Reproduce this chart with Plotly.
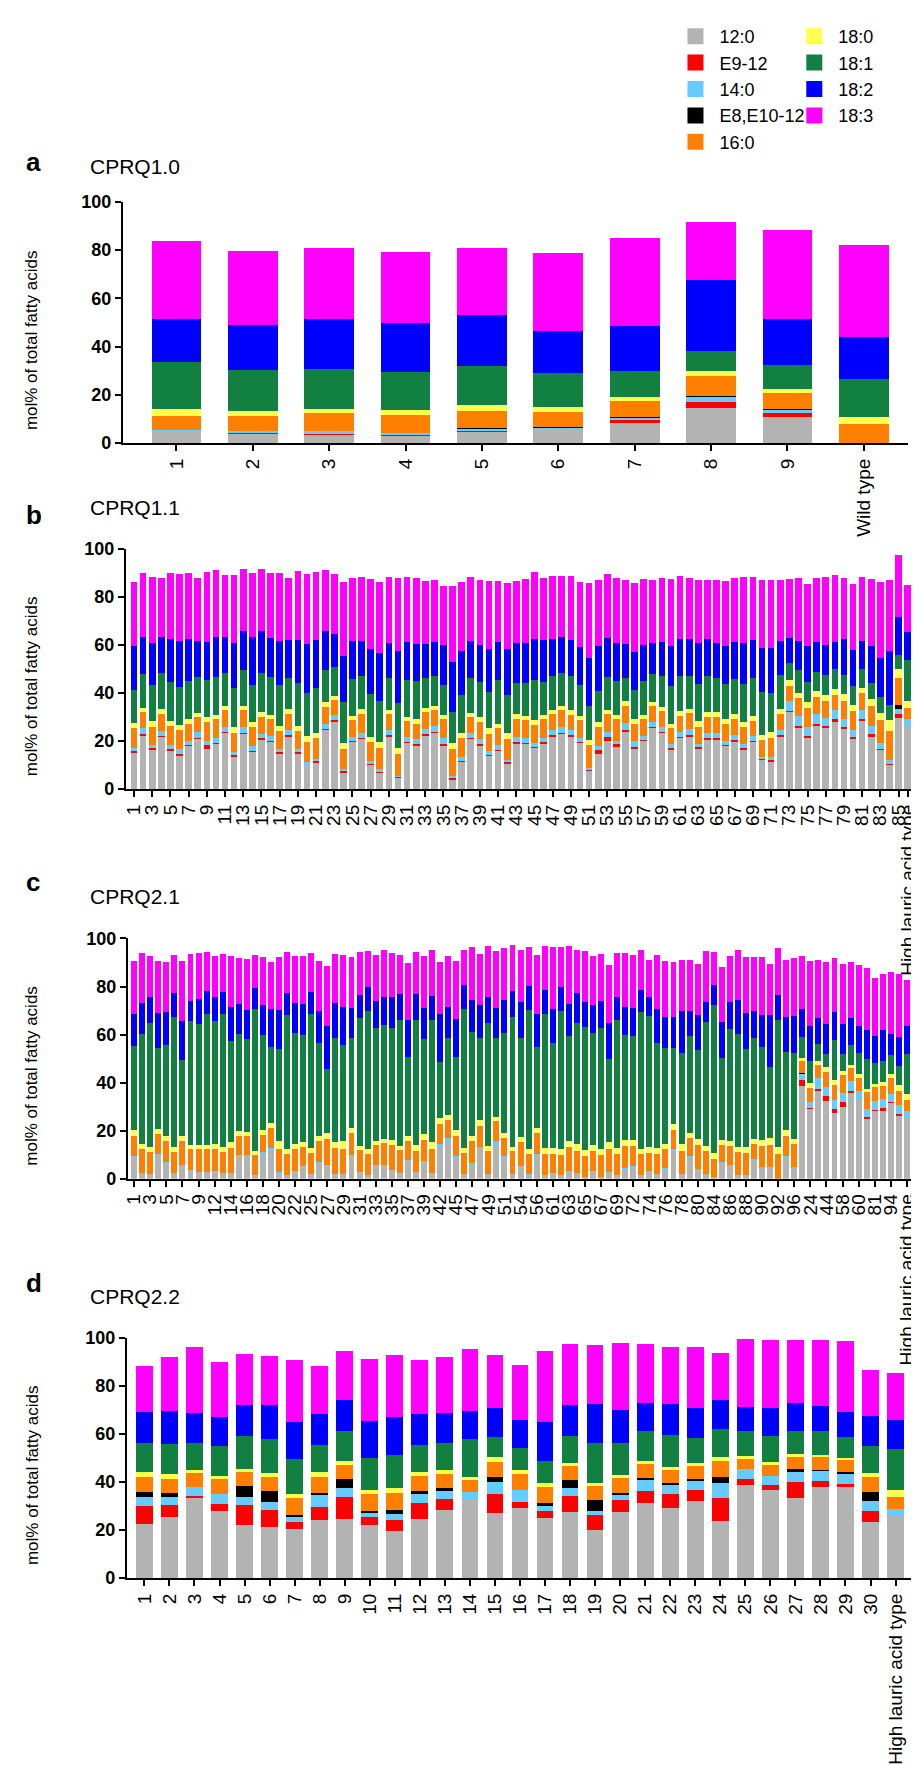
import plotly.graph_objects as go

# ---------------- data ----------------
SERIES = ["12:0", "E9-12", "14:0", "E8,E10-12", "16:0", "18:0", "18:1", "18:2", "18:3"]
COLORS = ["#b3b3b3", "#ff0000", "#66ccff", "#000000", "#ff8000", "#ffff4d", "#118040", "#0000ff", "#ff00ff"]

# cumulative level (top of each series) per bar, order as SERIES
A_LABELS = ["1", "2", "3", "4", "5", "6", "7", "8", "9", "Wild type"]
A_LEVELS = [
    [4.8, 5.0, 5.5, 5.5, 11.4, 14.0, 33.6, 51.4, 83.8],
    [4.2, 4.5, 5.2, 5.2, 11.4, 13.4, 30.4, 49.0, 79.7],
    [3.8, 4.1, 4.9, 4.9, 12.3, 14.2, 30.8, 51.4, 80.8],
    [3.4, 3.5, 4.1, 4.1, 11.6, 13.7, 29.5, 49.7, 79.2],
    [4.7, 5.1, 5.9, 6.2, 13.4, 15.6, 31.8, 53.0, 80.8],
    [5.5, 5.5, 6.4, 6.6, 13.0, 14.8, 29.0, 46.3, 79.0],
    [8.2, 9.6, 10.7, 10.9, 17.5, 19.2, 29.9, 48.6, 85.2],
    [14.7, 17.1, 19.2, 19.5, 27.8, 29.9, 38.1, 67.7, 91.6],
    [11.0, 12.6, 14.1, 14.3, 20.8, 22.3, 32.3, 51.4, 88.2],
    [0.2, 0.2, 0.2, 0.2, 7.9, 11.0, 26.7, 44.2, 82.2],
]

B_LABELS = [str(i) for i in range(1, 86)] + ["High lauric acid type"]
B_TICKS = [str(i) for i in range(1, 86, 2)] + ["High lauric acid type"]
B_LEVELS = [
    [15.3, 15.8, 17.3, 17.3, 25.5, 27.7, 41.4, 59.6, 86.1],
    [22.5, 22.8, 25.3, 25.3, 32.1, 33.7, 48.1, 63.5, 89.8],
    [16.7, 17.1, 18.4, 18.4, 26.0, 28.4, 43.3, 60.8, 88.4],
    [21.9, 22.3, 24.3, 24.3, 31.4, 33.5, 48.2, 63.3, 88.1],
    [16.1, 16.6, 18.2, 18.2, 26.2, 28.4, 44.8, 62.6, 89.9],
    [13.7, 14.8, 16.7, 16.7, 24.6, 26.6, 42.6, 61.5, 89.5],
    [18.0, 18.3, 19.9, 19.9, 27.3, 29.4, 45.1, 62.3, 89.9],
    [21.2, 21.5, 23.6, 23.6, 30.1, 31.8, 46.7, 61.5, 87.8],
    [16.7, 18.2, 20.2, 20.2, 28.1, 30.1, 45.4, 61.2, 90.2],
    [19.1, 19.4, 21.4, 21.4, 29.0, 30.7, 46.7, 63.5, 91.1],
    [23.6, 23.9, 26.0, 26.0, 32.8, 34.6, 48.2, 63.5, 89.3],
    [13.7, 14.1, 15.3, 15.3, 23.2, 25.7, 42.1, 60.8, 89.3],
    [23.2, 23.5, 25.7, 25.7, 32.8, 34.6, 49.6, 65.8, 91.8],
    [15.7, 16.0, 17.8, 17.8, 25.7, 28.0, 43.4, 63.3, 89.9],
    [20.8, 21.1, 22.8, 22.8, 30.1, 32.0, 48.5, 65.8, 91.5],
    [19.8, 20.1, 22.1, 22.1, 29.0, 30.7, 46.7, 62.8, 89.9],
    [15.0, 15.4, 16.9, 16.9, 24.3, 26.2, 43.4, 61.5, 89.9],
    [22.1, 22.5, 24.6, 24.6, 31.4, 33.2, 46.4, 61.9, 87.8],
    [15.0, 15.3, 16.7, 16.7, 24.3, 26.2, 44.0, 62.2, 91.0],
    [10.2, 10.5, 11.2, 11.2, 19.8, 22.1, 40.0, 60.5, 89.5],
    [11.2, 11.6, 12.6, 12.6, 21.4, 23.5, 41.9, 62.2, 90.4],
    [24.9, 25.2, 27.3, 27.3, 34.4, 36.2, 49.5, 65.8, 91.3],
    [28.4, 28.6, 31.0, 31.0, 37.3, 38.9, 51.0, 64.6, 89.5],
    [7.1, 7.5, 8.5, 8.5, 16.8, 19.4, 36.2, 55.3, 86.3],
    [19.8, 20.1, 21.9, 21.9, 28.7, 30.3, 46.0, 61.5, 88.1],
    [21.2, 21.5, 23.5, 23.5, 31.4, 33.3, 47.1, 61.5, 88.5],
    [10.2, 10.6, 11.6, 11.6, 19.8, 21.9, 39.6, 58.3, 87.4],
    [6.8, 7.2, 8.2, 8.2, 17.1, 19.5, 36.5, 56.7, 86.1],
    [22.1, 22.4, 24.6, 24.6, 31.4, 33.1, 46.4, 60.8, 88.4],
    [4.8, 5.1, 5.5, 5.5, 14.6, 17.3, 35.8, 57.4, 88.1],
    [19.4, 19.7, 21.6, 21.6, 28.4, 30.1, 45.4, 61.1, 88.4],
    [18.2, 18.9, 20.8, 20.8, 27.3, 29.1, 45.1, 60.5, 87.7],
    [22.5, 22.8, 25.0, 25.0, 32.1, 33.9, 46.2, 60.5, 86.7],
    [23.5, 23.8, 26.4, 26.4, 33.1, 34.8, 47.1, 61.2, 87.2],
    [18.4, 18.8, 21.2, 21.2, 29.0, 31.0, 43.3, 59.8, 84.4],
    [4.1, 4.6, 5.5, 5.5, 16.7, 19.1, 32.1, 52.9, 84.4],
    [11.6, 11.9, 13.4, 13.4, 21.2, 23.2, 39.2, 57.4, 86.3],
    [21.2, 21.5, 23.2, 23.2, 30.1, 31.8, 46.4, 61.5, 88.5],
    [18.4, 18.9, 20.9, 20.9, 28.0, 30.1, 44.4, 60.1, 87.2],
    [13.9, 14.2, 15.7, 15.7, 23.0, 25.3, 40.6, 58.3, 86.5],
    [16.1, 16.5, 18.2, 18.2, 25.5, 27.3, 45.5, 61.1, 86.7],
    [10.9, 11.2, 12.3, 12.3, 20.8, 23.2, 39.3, 58.5, 85.7],
    [19.1, 19.6, 21.9, 21.9, 29.1, 31.1, 44.3, 60.8, 86.7],
    [18.9, 19.3, 21.2, 21.2, 28.7, 30.6, 44.1, 60.7, 87.4],
    [17.3, 17.7, 19.4, 19.4, 26.9, 28.7, 45.4, 62.6, 90.4],
    [19.1, 19.5, 21.4, 21.4, 29.1, 31.0, 44.8, 62.0, 87.7],
    [22.1, 22.4, 24.6, 24.6, 31.1, 32.8, 46.9, 62.6, 88.8],
    [23.2, 23.5, 26.0, 26.0, 32.8, 34.7, 48.4, 63.4, 88.8],
    [22.1, 22.4, 24.6, 24.6, 31.0, 32.8, 47.1, 62.0, 88.8],
    [19.4, 19.7, 21.4, 21.4, 28.7, 30.6, 43.2, 59.0, 86.1],
    [7.9, 8.2, 8.9, 8.9, 18.2, 20.5, 34.7, 54.4, 85.9],
    [14.8, 16.1, 17.8, 17.8, 25.7, 28.0, 41.0, 59.7, 87.0],
    [20.2, 21.6, 23.6, 23.6, 31.1, 33.1, 46.7, 63.0, 89.5],
    [17.5, 18.9, 20.2, 20.2, 29.0, 30.7, 45.1, 60.9, 88.0],
    [24.2, 24.8, 27.6, 27.6, 34.8, 36.9, 46.2, 60.4, 86.9],
    [17.1, 17.7, 20.1, 20.1, 27.3, 29.2, 41.3, 57.0, 85.7],
    [20.2, 20.5, 22.3, 22.3, 29.0, 31.0, 44.9, 59.8, 87.4],
    [25.5, 25.8, 28.1, 28.1, 34.6, 36.3, 48.0, 60.9, 87.2],
    [23.6, 23.9, 26.0, 26.0, 32.5, 34.0, 47.0, 61.2, 88.1],
    [16.7, 17.0, 18.7, 18.7, 25.3, 27.0, 43.0, 59.6, 87.4],
    [21.4, 21.8, 23.9, 23.9, 30.5, 32.5, 47.1, 62.4, 88.8],
    [22.1, 22.4, 24.9, 24.9, 31.7, 33.5, 47.1, 62.6, 88.1],
    [17.1, 17.5, 18.9, 18.9, 25.8, 28.4, 43.7, 60.9, 87.2],
    [20.8, 21.1, 23.2, 23.2, 30.1, 32.1, 47.3, 62.6, 87.2],
    [20.8, 21.1, 23.2, 23.2, 30.1, 32.0, 46.4, 60.7, 87.0],
    [18.0, 18.4, 20.1, 20.1, 27.3, 29.2, 43.9, 59.6, 86.6],
    [19.8, 20.4, 22.5, 22.5, 29.4, 31.3, 45.9, 61.2, 87.7],
    [16.7, 17.2, 18.7, 18.7, 26.0, 28.0, 43.7, 60.9, 88.3],
    [19.8, 20.1, 22.1, 22.1, 28.4, 30.6, 46.2, 61.9, 88.5],
    [12.3, 12.6, 13.4, 13.4, 20.5, 22.7, 40.3, 58.6, 87.2],
    [11.2, 12.3, 13.4, 13.4, 21.4, 23.8, 40.2, 58.6, 87.2],
    [22.1, 22.4, 24.6, 24.6, 31.4, 33.3, 47.4, 61.7, 87.0],
    [32.4, 32.7, 36.9, 36.9, 42.8, 45.4, 52.6, 62.8, 87.4],
    [25.7, 26.1, 30.5, 30.5, 38.0, 40.0, 49.5, 61.7, 87.7],
    [21.4, 22.1, 25.7, 25.7, 33.7, 36.2, 44.4, 59.4, 85.4],
    [26.6, 27.2, 31.4, 31.4, 38.5, 40.7, 48.8, 61.3, 87.8],
    [25.3, 26.2, 29.8, 29.8, 36.9, 39.3, 47.4, 59.8, 88.5],
    [28.3, 29.0, 32.8, 32.8, 39.3, 41.7, 49.9, 61.1, 89.2],
    [25.3, 25.7, 29.0, 29.0, 36.6, 39.6, 47.4, 62.6, 88.1],
    [21.2, 21.6, 24.6, 24.6, 32.4, 35.0, 43.0, 58.1, 85.4],
    [28.7, 29.2, 33.1, 33.1, 40.2, 42.3, 49.9, 61.7, 88.4],
    [22.1, 22.8, 26.2, 26.2, 34.7, 37.6, 44.3, 59.7, 87.3],
    [16.4, 16.8, 19.1, 19.1, 28.7, 31.7, 38.5, 54.6, 86.3],
    [10.2, 10.6, 12.3, 12.3, 24.3, 28.7, 35.2, 57.7, 87.2],
    [29.6, 31.4, 33.5, 35.0, 46.4, 49.9, 56.0, 71.7, 97.3],
    [26.2, 26.2, 29.1, 29.1, 33.7, 36.5, 53.6, 65.6, 85.1],
]

C_LABELS = ["1", "2", "3", "4", "5", "6", "7", "8", "9", "10", "12", "13", "14", "15", "16", "17",
            "18", "19", "20", "21", "22", "23", "25", "26", "27", "28", "29", "30", "31", "32", "33",
            "34", "35", "36", "37", "38", "39", "40", "42", "43", "45", "46", "47", "48", "49", "50",
            "51", "52", "54", "55", "56", "57", "61", "62", "63", "64", "65", "66", "67", "68", "69",
            "70", "72", "73", "74", "75", "76", "77", "78", "79", "80", "82", "84", "85", "86", "87",
            "88", "89", "90", "91", "92", "93", "96", "11", "24", "41", "44", "53", "58", "59", "60",
            "71", "81", "83", "94", "95", "High lauric acid type"]
C_TICKS = ["1", "3", "5", "7", "9", "12", "14", "16", "18", "20", "22", "25", "27", "29", "31", "33",
           "35", "37", "39", "42", "45", "47", "49", "51", "54", "56", "61", "63", "65", "67", "69",
           "72", "74", "76", "78", "80", "84", "86", "88", "90", "92", "96", "24", "44", "58", "60",
           "81", "94", "High lauric acid type"]
C_LEVELS = [
    [8.6, 8.6, 9.6, 9.6, 17.8, 20.1, 55.2, 68.6, 90.8],
    [2.5, 2.5, 2.5, 2.5, 12.3, 14.5, 60.4, 73.0, 94.0],
    [1.8, 1.8, 1.8, 1.8, 11.1, 13.4, 65.0, 75.7, 92.9],
    [9.6, 9.6, 10.3, 10.3, 18.5, 20.7, 54.5, 68.9, 90.8],
    [6.2, 6.2, 6.8, 6.8, 15.9, 17.8, 55.6, 69.2, 90.4],
    [2.5, 2.5, 2.5, 2.5, 11.1, 13.4, 67.5, 77.5, 93.3],
    [5.6, 5.6, 5.9, 5.9, 15.5, 17.9, 49.3, 65.5, 90.8],
    [3.6, 3.6, 3.6, 3.6, 12.5, 14.1, 65.5, 74.1, 93.6],
    [2.7, 2.7, 2.7, 2.7, 12.5, 14.1, 64.4, 74.7, 94.0],
    [2.7, 2.7, 2.7, 2.7, 12.3, 14.1, 68.6, 78.2, 94.5],
    [3.2, 3.2, 3.2, 3.2, 12.5, 14.4, 65.5, 75.5, 92.9],
    [2.2, 2.2, 2.2, 2.2, 11.1, 13.3, 68.5, 77.8, 93.6],
    [2.5, 2.5, 2.5, 2.5, 12.7, 15.1, 57.3, 71.6, 92.7],
    [9.3, 9.3, 10.0, 10.0, 17.8, 19.9, 60.3, 72.6, 91.8],
    [9.3, 9.3, 10.0, 10.0, 17.8, 19.6, 58.2, 70.3, 91.4],
    [1.4, 1.4, 1.4, 1.4, 10.0, 11.6, 70.5, 79.2, 93.3],
    [10.3, 10.3, 11.0, 11.0, 18.2, 20.3, 60.0, 72.3, 92.2],
    [11.6, 11.6, 12.7, 12.7, 21.0, 23.3, 54.8, 70.5, 90.4],
    [2.5, 2.5, 2.9, 2.9, 12.5, 15.9, 54.1, 70.3, 92.2],
    [1.4, 1.4, 1.4, 1.4, 10.4, 12.3, 68.2, 77.5, 94.5],
    [3.2, 3.2, 3.2, 3.2, 12.5, 14.5, 60.7, 73.0, 92.6],
    [5.2, 5.2, 5.2, 5.2, 13.0, 15.1, 60.0, 72.6, 92.5],
    [1.8, 1.8, 1.8, 1.8, 10.7, 12.7, 68.6, 77.8, 93.8],
    [6.2, 6.2, 6.8, 6.8, 15.9, 17.8, 56.6, 69.9, 90.8],
    [5.2, 5.2, 5.9, 5.9, 16.4, 19.2, 45.6, 63.7, 88.5],
    [2.1, 2.1, 2.1, 2.1, 12.7, 15.1, 58.6, 73.0, 93.6],
    [1.8, 1.8, 1.8, 1.8, 12.5, 15.5, 55.6, 71.4, 93.3],
    [9.3, 9.3, 10.0, 10.0, 18.9, 21.0, 58.6, 71.0, 92.2],
    [2.9, 2.9, 2.9, 2.9, 11.8, 13.7, 66.8, 76.4, 94.5],
    [1.5, 1.5, 1.5, 1.5, 10.3, 12.5, 70.0, 79.6, 94.9],
    [5.2, 5.2, 5.6, 5.6, 14.1, 15.8, 62.7, 74.1, 93.2],
    [5.6, 5.6, 5.6, 5.6, 14.8, 16.6, 64.1, 75.8, 95.3],
    [3.8, 3.8, 3.8, 3.8, 14.1, 16.2, 62.7, 75.8, 93.8],
    [2.5, 2.5, 2.5, 2.5, 12.1, 13.7, 66.2, 76.7, 93.2],
    [7.3, 7.3, 7.9, 7.9, 15.8, 17.8, 50.8, 66.2, 89.7],
    [2.7, 2.7, 2.7, 2.7, 11.6, 14.1, 66.2, 76.7, 94.5],
    [6.8, 6.8, 7.5, 7.5, 16.2, 18.5, 58.2, 71.0, 92.5],
    [2.5, 2.5, 2.5, 2.5, 12.3, 15.1, 66.2, 76.2, 95.2],
    [13.4, 13.4, 14.5, 14.5, 22.6, 25.1, 48.6, 68.6, 90.4],
    [15.8, 15.8, 16.8, 16.8, 24.4, 26.4, 58.6, 71.6, 92.9],
    [8.6, 8.6, 9.3, 9.3, 17.8, 20.3, 50.7, 66.4, 90.8],
    [1.8, 1.8, 1.8, 1.8, 10.7, 12.7, 70.5, 80.5, 95.3],
    [5.9, 5.9, 6.4, 6.4, 15.5, 17.9, 61.0, 74.4, 96.3],
    [12.7, 12.7, 13.4, 13.4, 22.1, 24.4, 58.6, 72.3, 93.6],
    [1.8, 1.8, 1.8, 1.8, 11.4, 13.7, 64.8, 75.5, 96.7],
    [14.1, 14.1, 15.5, 15.5, 24.0, 25.8, 58.4, 71.0, 94.9],
    [8.6, 8.6, 9.3, 9.3, 16.8, 18.9, 60.7, 74.4, 95.9],
    [1.8, 1.8, 1.8, 1.8, 11.4, 13.4, 67.5, 78.2, 97.4],
    [5.2, 5.2, 5.2, 5.2, 15.1, 17.5, 58.4, 73.7, 95.3],
    [1.4, 1.4, 1.8, 1.8, 10.4, 12.5, 70.3, 80.1, 96.3],
    [9.3, 9.3, 10.3, 10.3, 18.9, 21.0, 54.8, 68.6, 93.3],
    [1.4, 1.4, 1.4, 1.4, 10.4, 12.7, 68.6, 78.5, 96.7],
    [2.5, 2.5, 2.5, 2.5, 10.4, 12.7, 56.6, 70.5, 96.3],
    [1.4, 1.4, 1.4, 1.4, 10.0, 12.5, 69.9, 79.7, 96.3],
    [3.2, 3.2, 3.2, 3.2, 13.0, 15.8, 59.6, 72.7, 96.7],
    [2.2, 2.2, 2.2, 2.2, 11.6, 14.5, 64.8, 77.5, 95.3],
    [0.8, 0.8, 0.8, 0.8, 9.3, 11.8, 63.0, 73.5, 94.8],
    [3.4, 3.4, 3.4, 3.4, 11.6, 14.1, 60.7, 72.3, 92.6],
    [0.8, 0.8, 0.8, 0.8, 10.0, 12.5, 62.7, 74.0, 93.4],
    [2.9, 2.9, 2.9, 2.9, 12.5, 15.2, 49.7, 64.8, 88.8],
    [1.4, 1.4, 1.4, 1.4, 10.3, 12.7, 66.2, 75.8, 94.1],
    [3.8, 3.8, 4.4, 4.4, 13.7, 16.2, 59.7, 71.6, 93.8],
    [4.8, 4.8, 5.4, 5.4, 13.7, 16.2, 59.6, 71.2, 93.3],
    [1.5, 1.5, 1.5, 1.5, 10.3, 12.5, 69.3, 78.5, 95.3],
    [3.2, 3.2, 3.2, 3.2, 10.7, 13.0, 67.9, 75.5, 91.2],
    [1.8, 1.8, 1.8, 1.8, 10.3, 12.7, 56.6, 70.8, 93.2],
    [3.8, 3.8, 4.4, 4.4, 12.3, 14.5, 54.5, 67.5, 90.5],
    [11.4, 11.4, 12.5, 12.5, 20.3, 22.6, 54.5, 67.5, 90.1],
    [1.8, 1.8, 1.8, 1.8, 11.6, 14.4, 52.2, 69.6, 91.2],
    [8.6, 8.6, 9.6, 9.6, 16.8, 18.9, 59.3, 69.6, 91.2],
    [4.2, 4.2, 4.2, 4.2, 14.1, 16.6, 53.6, 68.2, 89.2],
    [1.8, 1.8, 1.8, 1.8, 11.4, 13.7, 65.1, 73.7, 94.8],
    [0.8, 0.8, 0.8, 0.8, 8.2, 10.7, 72.1, 80.8, 94.5],
    [6.6, 6.6, 7.0, 7.0, 14.1, 16.2, 50.4, 65.2, 88.2],
    [5.6, 5.6, 5.6, 5.6, 13.8, 15.9, 62.3, 73.4, 92.7],
    [1.5, 1.5, 1.5, 1.5, 11.1, 13.4, 60.4, 74.5, 95.2],
    [1.5, 1.5, 1.5, 1.5, 10.7, 13.0, 54.1, 68.8, 92.3],
    [7.3, 7.3, 8.2, 8.2, 14.4, 16.6, 58.6, 70.0, 92.2],
    [4.5, 4.5, 5.0, 5.0, 13.7, 16.2, 54.8, 68.2, 92.2],
    [4.5, 4.5, 5.0, 5.0, 14.1, 16.8, 46.6, 68.2, 89.2],
    [0.0, 0.0, 0.0, 0.0, 10.3, 13.4, 65.9, 76.4, 96.2],
    [8.6, 8.6, 9.6, 9.6, 17.8, 20.3, 52.7, 67.3, 91.0],
    [4.5, 4.5, 5.0, 5.0, 14.4, 16.6, 52.5, 67.9, 91.8],
    [38.5, 41.1, 43.6, 43.9, 49.0, 50.1, 59.0, 70.7, 92.9],
    [28.9, 29.6, 31.9, 31.9, 37.8, 39.7, 49.0, 63.4, 90.5],
    [36.3, 37.4, 41.8, 41.8, 47.4, 49.0, 56.2, 66.8, 91.1],
    [32.3, 34.4, 38.1, 38.1, 44.5, 46.3, 52.1, 64.4, 90.1],
    [27.4, 29.2, 32.6, 32.6, 39.2, 41.1, 57.9, 69.2, 91.9],
    [29.9, 31.9, 35.8, 35.8, 43.2, 44.9, 51.8, 64.4, 89.2],
    [35.8, 36.7, 40.8, 40.8, 45.9, 47.3, 55.6, 66.8, 90.0],
    [33.0, 33.0, 36.7, 36.7, 41.9, 43.4, 52.2, 63.4, 88.9],
    [24.8, 25.8, 29.2, 29.2, 36.0, 37.4, 50.0, 62.1, 87.9],
    [28.1, 28.8, 32.2, 32.2, 38.1, 39.5, 48.1, 59.3, 83.6],
    [28.2, 29.5, 33.0, 33.0, 38.5, 40.1, 49.0, 61.8, 85.2],
    [31.6, 31.9, 35.3, 35.3, 41.9, 43.7, 51.5, 60.4, 85.9],
    [26.2, 27.1, 30.8, 30.8, 36.7, 39.0, 47.0, 59.0, 85.1],
    [25.1, 25.1, 28.1, 28.1, 32.6, 35.3, 51.8, 63.7, 82.6],
]

D_LABELS = [str(i) for i in range(1, 31)] + ["High lauric acid type"]
D_LEVELS = [
    [22.6, 29.9, 33.8, 35.8, 42.1, 44.0, 56.4, 69.0, 88.5],
    [25.6, 30.5, 33.6, 35.3, 41.4, 43.2, 55.8, 69.5, 92.1],
    [33.2, 34.2, 37.9, 37.9, 43.8, 44.9, 56.4, 68.8, 96.2],
    [28.1, 30.8, 35.2, 35.2, 41.1, 42.5, 54.8, 67.1, 90.0],
    [22.2, 30.4, 33.8, 38.4, 44.2, 45.5, 59.3, 72.2, 93.2],
    [21.2, 28.4, 31.8, 36.3, 42.1, 43.8, 57.8, 71.9, 92.3],
    [20.3, 23.3, 25.3, 26.3, 33.3, 35.2, 49.7, 64.9, 90.8],
    [24.0, 29.7, 34.9, 35.5, 42.2, 44.1, 55.5, 68.2, 88.1],
    [24.7, 33.6, 37.7, 41.4, 47.0, 48.6, 61.2, 74.0, 94.4],
    [22.3, 25.3, 27.4, 28.1, 34.9, 36.6, 50.0, 65.3, 91.2],
    [19.6, 24.2, 26.7, 28.4, 35.6, 37.5, 51.4, 67.1, 93.0],
    [24.7, 31.1, 35.2, 36.3, 42.7, 44.2, 55.5, 68.4, 90.8],
    [28.5, 32.9, 36.7, 37.4, 43.4, 44.8, 56.2, 68.6, 92.2],
    [32.9, 32.9, 35.9, 35.9, 40.8, 42.2, 57.9, 69.6, 95.5],
    [27.0, 35.2, 39.9, 42.2, 48.4, 50.4, 58.9, 70.7, 92.9],
    [29.0, 31.5, 36.6, 36.6, 43.4, 44.8, 54.0, 66.0, 88.6],
    [24.9, 28.1, 30.1, 31.2, 38.1, 39.5, 48.8, 65.1, 94.7],
    [27.7, 34.2, 37.4, 40.8, 46.8, 47.8, 59.3, 72.2, 97.3],
    [19.9, 26.3, 28.1, 32.5, 38.4, 39.7, 56.4, 72.3, 97.0],
    [27.4, 32.7, 34.9, 35.6, 41.8, 42.9, 56.4, 70.1, 97.7],
    [31.1, 36.3, 41.2, 41.8, 47.5, 48.6, 61.2, 72.9, 97.3],
    [29.2, 34.9, 38.6, 39.5, 44.9, 46.2, 59.6, 72.3, 96.3],
    [31.9, 36.7, 40.7, 41.1, 46.8, 48.1, 58.5, 70.7, 96.3],
    [23.8, 33.2, 39.5, 42.1, 48.9, 50.4, 62.1, 74.2, 93.8],
    [38.8, 41.2, 45.5, 45.5, 49.7, 51.0, 61.2, 71.4, 99.5],
    [36.6, 38.8, 42.3, 42.3, 47.5, 48.2, 59.2, 70.7, 99.0],
    [33.2, 40.1, 44.1, 45.5, 50.5, 51.8, 61.4, 72.9, 99.0],
    [37.9, 40.4, 44.9, 45.2, 50.3, 51.4, 61.2, 71.6, 99.2],
    [38.1, 39.0, 43.6, 44.1, 49.0, 50.1, 58.8, 69.2, 98.6],
    [23.3, 28.1, 32.2, 36.0, 41.9, 43.6, 54.8, 67.5, 86.6],
    [26.0, 26.0, 28.9, 28.9, 33.8, 36.6, 53.6, 66.0, 85.2],
]

# ---------------- layout ----------------
W, H = 919, 1765
FONT = "Liberation Sans, Arial, sans-serif"


def fx(px):
    return px / W


def fy(px):
    return 1 - px / H


PANELS = [
    dict(letter="a", title="CPRQ1.0", labels=A_LABELS, ticks=A_LABELS, levels=A_LEVELS,
         xpx=(112, 905), ypx=(430, 186), rng=[-0.70, 9.58], width=0.65, ly=146, ty=150),
    dict(letter="b", title="CPRQ1.1", labels=B_LABELS, ticks=B_TICKS, levels=B_LEVELS,
         xpx=(115, 910), ypx=(780, 537), rng=[-0.9, 85.6], width=0.73, ly=503, ty=495),
    dict(letter="c", title="CPRQ2.1", labels=C_LABELS, ticks=C_TICKS, levels=C_LEVELS,
         xpx=(117, 910), ypx=(1174, 931), rng=[-0.78, 96.76], width=0.74, ly=874, ty=889),
    dict(letter="d", title="CPRQ2.2", labels=D_LABELS, ticks=D_LABELS, levels=D_LEVELS,
         xpx=(116, 910), ypx=(1578, 1335), rng=[-0.7, 30.7], width=0.67, ly=1279, ty=1293),
]

fig = go.Figure()
annotations = []
for p_i, p in enumerate(PANELS):
    n = p_i + 1
    xa = "x" if n == 1 else f"x{n}"
    ya = "y" if n == 1 else f"y{n}"
    for s in range(len(SERIES)):
        seg = []
        for lv in p["levels"]:
            lower = lv[s - 1] if s > 0 else 0.0
            seg.append(max(0.0, round(lv[s] - lower, 3)))
        fig.add_trace(go.Bar(
            x=p["labels"], y=seg, name=SERIES[s], marker=dict(color=COLORS[s], line=dict(width=0)),
            width=p["width"], xaxis=xa, yaxis=ya, showlegend=False, legendgroup=SERIES[s],
            hoverinfo="x+y+name",
        ))
    xk = "xaxis" if n == 1 else f"xaxis{n}"
    yk = "yaxis" if n == 1 else f"yaxis{n}"
    fig.update_layout({
        xk: dict(domain=[fx(p["xpx"][0]), fx(p["xpx"][1])], anchor=ya, type="category",
                 categoryorder="array", categoryarray=p["labels"], range=p["rng"],
                 tickmode="array", tickvals=p["ticks"], ticktext=p["ticks"], tickangle=-90,
                 showline=True, linecolor="black", linewidth=2, ticks="outside", ticklen=6,
                 tickwidth=2, tickcolor="black", showgrid=False, zeroline=False,
                 tickfont=dict(family=FONT, size=19, color="black")),
        yk: dict(domain=[fy(p["ypx"][0]), fy(p["ypx"][1])], anchor=xa, range=[0, 100],
                 tickmode="array", tickvals=[0, 20, 40, 60, 80, 100],
                 showline=True, linecolor="black", linewidth=2, ticks="outside", ticklen=6,
                 tickwidth=2, tickcolor="black", showgrid=False, zeroline=False,
                 tickfont=dict(family=FONT, size=18, color="black", weight="bold")),
    })
    annotations.append(dict(text=p["letter"], x=fx(12), y=fy(p["ly"]), xref="paper", yref="paper",
                            xanchor="left", yanchor="middle", showarrow=False,
                            font=dict(family=FONT, size=26, color="black", weight="bold")))
    annotations.append(dict(text=p["title"], x=fx(77), y=fy(p["ty"]), xref="paper", yref="paper",
                            xanchor="left", yanchor="middle", showarrow=False,
                            font=dict(family=FONT, size=21, color="black")))
    annotations.append(dict(text="mol% of total fatty acids", x=fx(20), y=fy(p["ypx"][0] - 104),
                            xref="paper", yref="paper", xanchor="center", yanchor="middle",
                            textangle=-90, showarrow=False,
                            font=dict(family=FONT, size=17, color="black")))

# legend entries (square swatches), split into two columns
for s in range(len(SERIES)):
    fig.add_trace(go.Scatter(
        x=[None], y=[None], mode="markers", name=SERIES[s], legendgroup=SERIES[s],
        marker=dict(symbol="square", size=16, color=COLORS[s], line=dict(width=0)),
        legend="legend" if s < 5 else "legend2", showlegend=True, hoverinfo="skip",
    ))

LEG_FONT = dict(family=FONT, size=18, color="black")
fig.update_layout(
    width=W, height=H, autosize=False, margin=dict(l=0, r=0, t=0, b=0),
    paper_bgcolor="white", plot_bgcolor="white", barmode="stack",
    annotations=annotations,
    legend=dict(x=fx(666), y=fy(0), xanchor="left", yanchor="top", traceorder="normal",
                font=LEG_FONT, bgcolor="rgba(0,0,0,0)", borderwidth=0, tracegroupgap=0,
                itemsizing="trace", itemwidth=38),
    legend2=dict(x=fx(786), y=fy(0), xanchor="left", yanchor="top", traceorder="normal",
                 font=LEG_FONT, bgcolor="rgba(0,0,0,0)", borderwidth=0, tracegroupgap=0,
                 itemsizing="trace", itemwidth=38),
)

fig.write_html("out.html")
